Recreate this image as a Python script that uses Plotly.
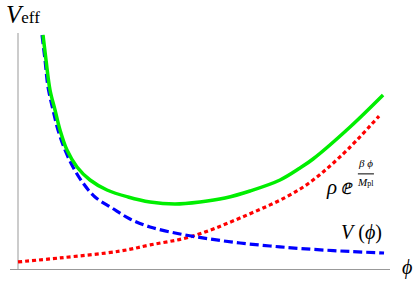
import plotly.graph_objects as go

# Values (phi units, V units)
phi_V = [0.658, 0.740, 0.822, 0.959, 1.096, 1.288, 1.507, 1.781, 2.110, 2.575, 3.068,
         3.616, 4.438, 5.260, 6.082, 6.904, 7.726, 8.822, 10.027]
V_pot = [9.915, 8.856, 7.712, 6.737, 5.890, 5.042, 4.322, 3.644, 3.051, 2.585, 2.119,
         1.780, 1.483, 1.271, 1.102, 0.975, 0.869, 0.763, 0.678]

phi_rho = [0.00, 1.15, 2.80, 3.62, 4.71, 6.08, 7.73, 8.82, 9.89]
V_rho = [0.30, 0.47, 0.76, 1.02, 1.36, 2.16, 3.39, 4.75, 6.48]

phi_eff = [0.685, 0.767, 0.877, 1.014, 1.151, 1.342, 1.616, 1.973, 2.438, 3.014, 3.616,
           4.301, 4.986, 5.671, 6.356, 7.178, 7.726, 8.082, 9.096, 10.0]
V_eff = [9.915, 8.856, 7.585, 6.737, 5.890, 5.042, 4.322, 3.771, 3.347, 3.051, 2.839,
         2.754, 2.839, 3.008, 3.305, 3.771, 4.280, 4.661, 6.017, 7.373]

X_RANGE = [-0.219, 10.19]
Y_RANGE = [0, 10]

fig = go.Figure()
fig.add_trace(go.Scatter(x=phi_rho, y=V_rho, mode="lines", line_shape="spline",
                         line=dict(color="#ff0000", width=3.2, dash="4px,3px")))
fig.add_trace(go.Scatter(x=phi_V, y=V_pot, mode="lines", line_shape="spline",
                         line=dict(color="#0000ff", width=3.2, dash="9px,4px")))
fig.add_trace(go.Scatter(x=phi_eff, y=V_eff, mode="lines", line_shape="spline",
                         line=dict(color="#00ee00", width=3.5)))

# vertical axis line
fig.add_shape(type="line", x0=0, x1=0, y0=0, y1=10, xref="x", yref="y",
              line=dict(color="#999999", width=1), layer="below")

serif = "Liberation Serif"
ann = []
ann.append(dict(x=-0.016, y=1.08, xref="paper", yref="paper",
                text="<i>V</i><span style='font-size:17px'>eff</span>",
                xanchor="left", yanchor="middle", showarrow=False,
                font=dict(family=serif, size=25, color="black")))
ann.append(dict(x=1.045, y=0.005, xref="paper", yref="paper", text="<i>ϕ</i>",
                xanchor="center", yanchor="middle",
                showarrow=False, font=dict(family=serif, size=20, color="black")))
ann.append(dict(x=9.40, y=1.55, text="<i>V</i> (<i>ϕ</i>)", xanchor="center", yanchor="middle",
                showarrow=False, font=dict(family=serif, size=20, color="black")))
ann.append(dict(x=8.81, y=3.48, text="<i>ρ</i> ⅇ", xanchor="center", yanchor="middle",
                showarrow=False, font=dict(family=serif, size=21, color="black")))
ann.append(dict(x=9.53, y=4.48, text="<i>β ϕ</i>", xanchor="center", yanchor="middle",
                showarrow=False, font=dict(family=serif, size=11, color="black")))
ann.append(dict(x=9.53, y=3.67, text="<i>M</i><span style='font-size:8px'>pl</span>",
                xanchor="center", yanchor="middle",
                showarrow=False, font=dict(family=serif, size=11, color="black")))
fig.update_layout(annotations=ann)
fig.add_shape(type="line", x0=9.31, x1=9.75, y0=4.03, y1=4.03, xref="x", yref="y",
              line=dict(color="black", width=1))

fig.update_layout(
    width=415, height=282,
    margin=dict(l=10, r=25, t=33, b=13),
    paper_bgcolor="white", plot_bgcolor="white",
    showlegend=False,
    xaxis=dict(range=X_RANGE, showline=True, linecolor="#999999", linewidth=1,
               showgrid=False, zeroline=False, showticklabels=False, ticks=""),
    yaxis=dict(range=Y_RANGE, showline=False, showgrid=False, zeroline=False,
               showticklabels=False, ticks=""),
)
fig.write_html("out.html", config={"displayModeBar": False},
               post_script="document.body.style.margin='0';")
